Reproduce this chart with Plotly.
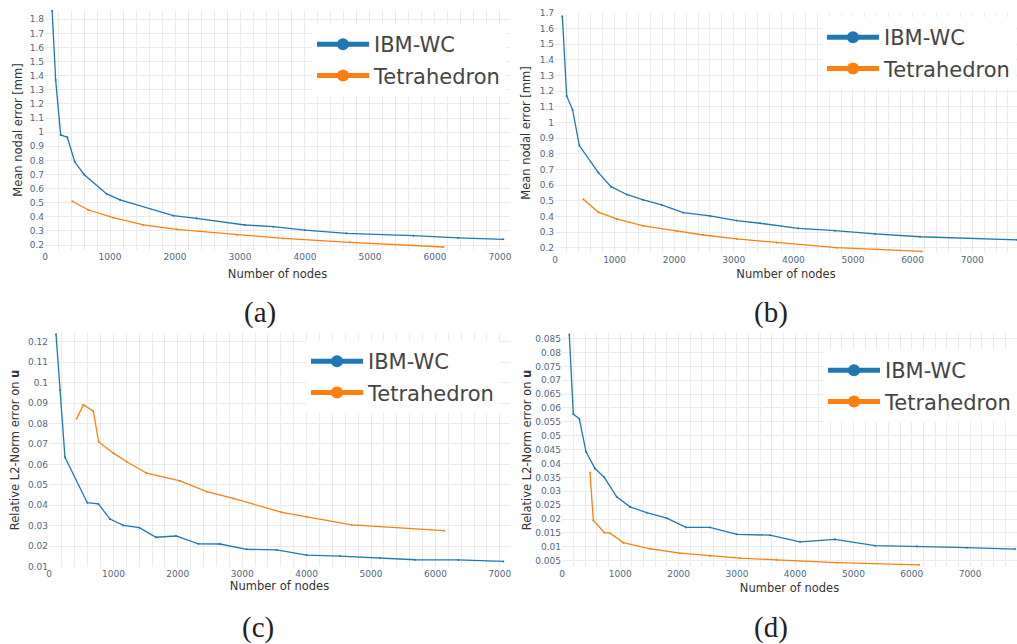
import plotly.graph_objects as go

# ---------------- data ----------------
# (a) Mean nodal error
a_ibm_x = [110, 164, 241, 343, 457, 600, 949, 1154, 1974, 2333, 3077, 3513, 4000, 4641, 5667, 6359, 7051]
a_ibm_y = [1.86, 1.37, 0.98, 0.964, 0.79, 0.70, 0.562, 0.52, 0.408, 0.389, 0.342, 0.33, 0.306, 0.283, 0.266, 0.25, 0.24]
a_tet_x = [420, 667, 1051, 1513, 2026, 2385, 2949, 3667, 4692, 6128]
a_tet_y = [0.51, 0.448, 0.394, 0.342, 0.311, 0.297, 0.271, 0.247, 0.219, 0.186]

# (b) Mean nodal error
b_ibm_x = [123, 196, 296, 408, 727, 940, 1203, 1482, 1790, 2153, 2601, 3049, 3440, 4083, 4698, 5369, 6124, 7752]
b_ibm_y = [1.68, 1.17, 1.08, 0.853, 0.68, 0.59, 0.54, 0.505, 0.473, 0.424, 0.403, 0.373, 0.356, 0.324, 0.309, 0.288, 0.27, 0.25]
b_tet_x = [475, 727, 1035, 1482, 2041, 2488, 3049, 3720, 4727, 6152]
b_tet_y = [0.51, 0.427, 0.384, 0.339, 0.307, 0.281, 0.256, 0.232, 0.2, 0.176]

# (c) Relative L2-norm error on u
c_ibm_x = [109, 171, 248, 595, 766, 947, 1154, 1403, 1661, 1972, 2319, 2655, 3069, 3535, 4001, 4519, 5140, 5683, 6356, 7054]
c_ibm_y = [0.1237, 0.0964, 0.0635, 0.0413, 0.0407, 0.0333, 0.0302, 0.0291, 0.0244, 0.025, 0.0212, 0.0211, 0.0185, 0.0182, 0.0157, 0.0152, 0.0143, 0.0134, 0.0133, 0.0126]
c_tet_x = [430, 533, 688, 771, 999, 1206, 1517, 2034, 2449, 2862, 3613, 4001, 4700, 6133]
c_tet_y = [0.0824, 0.0892, 0.086, 0.071, 0.0655, 0.0613, 0.0557, 0.0519, 0.0467, 0.0434, 0.0366, 0.0344, 0.0304, 0.0276]

# (d) Relative L2-norm error on u
d_ibm_x = [125, 194, 297, 412, 566, 726, 938, 1166, 1453, 1796, 2127, 2539, 2997, 3568, 4082, 4683, 5369, 6084, 6942, 7770]
d_ibm_y = [0.0865, 0.0578, 0.0561, 0.0442, 0.0382, 0.035, 0.028, 0.0244, 0.0223, 0.0203, 0.017, 0.017, 0.0145, 0.0142, 0.0118, 0.0127, 0.0104, 0.0102, 0.0097, 0.0092]
d_tet_x = [480, 537, 726, 823, 1051, 1509, 2024, 2539, 3053, 3682, 4712, 6124]
d_tet_y = [0.0368, 0.0196, 0.0151, 0.0149, 0.0115, 0.0093, 0.0077, 0.0067, 0.0059, 0.0053, 0.0043, 0.0035]

series_names = ["IBM-WC", "Tetrahedron"]
captions = ["(a)", "(b)", "(c)", "(d)"]
x_title = "Number of nodes"
y_titles = ["Mean nodal error [mm]", "Mean nodal error [mm]",
            "Relative L2-Norm error on <b>u</b>", "Relative L2-Norm error on <b>u</b>"]

BLUE = "#1f77b4"
ORANGE = "#ff7f0e"
W, H = 1017, 644

panels = [
    dict(ibm=(a_ibm_x, a_ibm_y), tet=(a_tet_x, a_tet_y),
         xpx=(45, 510), ypx=(10, 250), xr=[0, 7154], yr=[0.1646, 1.866], dt=0.1,
         leg=(312, 24), xs=8, ys=4),
    dict(ibm=(b_ibm_x, b_ibm_y), tet=(b_tet_x, b_tet_y),
         xpx=(555, 1017), ypx=(13, 253), xr=[0, 7752], yr=[0.166, 1.7], dt=0.1,
         leg=(822, 17), xs=5, ys=6),
    dict(ibm=(c_ibm_x, c_ibm_y), tet=(c_tet_x, c_tet_y),
         xpx=(49, 510), ypx=(333, 567), xr=[0, 7158], yr=[0.00985, 0.12425], dt=0.01,
         leg=(306, 341), xs=3, ys=5),
    dict(ibm=(d_ibm_x, d_ibm_y), tet=(d_tet_x, d_tet_y),
         xpx=(562, 1017), ypx=(333, 567), xr=[0, 7804], yr=[0.00273, 0.08701], dt=0.005,
         leg=(823, 350), xs=5, ys=1),
]

FONT = "DejaVu Sans"
TICKCOL = "#506784"
GRID = "#ebebeb"

fig = go.Figure()
layout = dict(
    width=W, height=H,
    margin=dict(l=0, r=0, t=0, b=0, autoexpand=False),
    paper_bgcolor="white", plot_bgcolor="white",
    font=dict(family=FONT, color="#444"),
    annotations=[],
)

cap_pos = [(260, 312), (771, 312), (258, 627), (771, 627)]

for i, p in enumerate(panels):
    k = "" if i == 0 else str(i + 1)
    leg = "legend" if i == 0 else "legend" + str(i + 1)
    for j, (name, (xs, ys), col) in enumerate([(series_names[0], p["ibm"], BLUE),
                                                (series_names[1], p["tet"], ORANGE)]):
        fig.add_trace(go.Scatter(
            x=xs, y=ys, name=name, mode="lines+markers",
            line=dict(color=col, width=1.3), marker=dict(color=col, size=2),
            xaxis="x" + k, yaxis="y" + k, legend=leg, showlegend=True,
            legendgroup=f"g{i}{j}",
        ))
    x0, x1 = p["xpx"]
    y0, y1 = p["ypx"]
    layout["xaxis" + k] = dict(
        domain=[x0 / W, x1 / W], range=p["xr"], anchor="y" + k, automargin=False,
        dtick=1000, showgrid=True, gridcolor=GRID, gridwidth=1,
        minor=dict(dtick=200, showgrid=True, gridcolor=GRID, gridwidth=1),
        zeroline=False, showline=False, ticks="",
        tickfont=dict(family=FONT, size=9, color=TICKCOL),
        title=dict(text=x_title, font=dict(family=FONT, size=11.5, color="#333"), standoff=p["xs"]),
    )
    layout["yaxis" + k] = dict(
        domain=[1 - y1 / H, 1 - y0 / H], range=p["yr"], anchor="x" + k, automargin=False,
        dtick=p["dt"], showgrid=True, gridcolor=GRID, gridwidth=1,
        zeroline=False, showline=False, ticks="",
        tickfont=dict(family=FONT, size=9, color=TICKCOL),
        title=dict(text=y_titles[i], font=dict(family=FONT, size=11.5, color="#333"), standoff=p["ys"]),
    )
    lx, ly = p["leg"]
    layout[leg] = dict(
        x=lx / W, y=1 - ly / H, xanchor="left", yanchor="top",
        xref="paper", yref="paper",
        bgcolor="white", borderwidth=0,
        font=dict(family=FONT, size=21, color="#444"),
        itemsizing="constant", itemwidth=52,
        traceorder="grouped", tracegroupgap=1,
    )
    cx, cy = cap_pos[i]
    layout["annotations"].append(dict(
        text=captions[i], x=cx / W, y=1 - cy / H, xref="paper", yref="paper",
        showarrow=False, xanchor="center", yanchor="middle",
        font=dict(family="Liberation Serif", size=29, color="#222"),
    ))

fig.update_layout(**layout)
fig.write_html("out.html", config={"displayModeBar": False},
               post_script="document.body.style.margin='0px';document.body.style.overflow='hidden';")
